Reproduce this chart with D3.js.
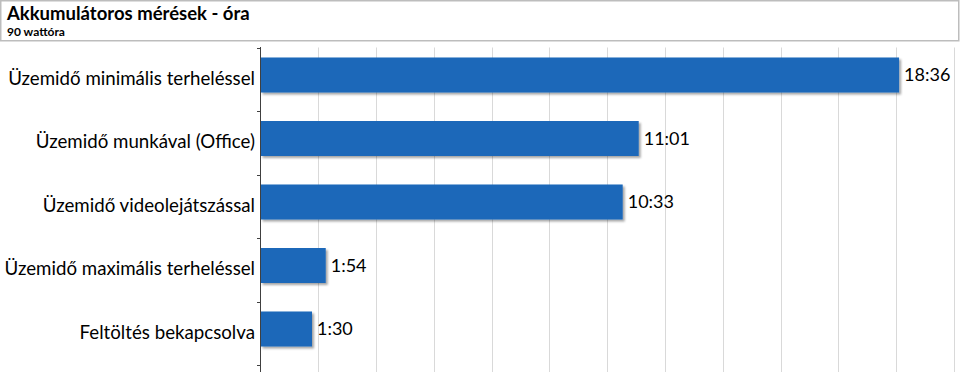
<!DOCTYPE html>
<html><head><meta charset="utf-8">
<script src="https://cdn.jsdelivr.net/npm/d3@7"></script>
<style>
html,body{margin:0;padding:0;background:#fff;}
svg{display:block;}
</style></head>
<body>
<svg id="c" width="960" height="380"></svg>
<script>
const title = "Akkumulátoros mérések - óra";
const subtitle = "90 wattóra";
const categories = ["Üzemidő minimális terheléssel","Üzemidő munkával (Office)","Üzemidő videolejátszással","Üzemidő maximális terheléssel","Feltöltés bekapcsolva"];
const times = ["18:36","11:01","10:33","1:54","1:30"];
const axisMaxMinutes = 1212;
const gridStepMinutes = 101;

const toMin = s => { const [h,m] = s.split(":").map(Number); return h*60+m; };
const data = categories.map((c,i)=>({cat:c, label:times[i], v:toMin(times[i])}));

const svg = d3.select("#c");
const font = "Lato, 'Open Sans', sans-serif";

// title box
svg.append("rect").attr("x",0.75).attr("y",0.75).attr("width",958).attr("height",40)
  .attr("fill","#fff").attr("stroke","#bdbdbd").attr("stroke-width",1.5);
svg.append("text").attr("x",7).attr("y",19.5).text(title)
  .attr("font-family",font).attr("font-weight","bold").attr("font-size",18.5).attr("fill","#000");
svg.append("text").attr("x",7).attr("y",35.5).text(subtitle)
  .attr("font-family",font).attr("font-weight","bold").attr("font-size",12).attr("fill","#000");

const x = d3.scaleLinear().domain([0,axisMaxMinutes]).range([260.5,954]);
const y = d3.scaleBand().domain(categories).range([47.5,365]);

const defs = svg.append("defs");
const f = defs.append("filter").attr("id","sh").attr("x","-5%").attr("y","-20%").attr("width","115%").attr("height","160%");
f.append("feDropShadow").attr("dx",2).attr("dy",2).attr("stdDeviation",1.2).attr("flood-color","#000").attr("flood-opacity",0.35);

// gridlines
svg.append("g").selectAll("line").data(d3.range(gridStepMinutes, axisMaxMinutes+1, gridStepMinutes))
  .join("line").attr("x1",d=>Math.round(x(d))+0.5).attr("x2",d=>Math.round(x(d))+0.5)
  .attr("y1",47.5).attr("y2",372).attr("stroke","#d9d9d9").attr("stroke-width",1);

// bars
svg.append("g").selectAll("rect").data(data).join("rect")
  .attr("x",x(0)).attr("y",d=>y(d.cat)+10).attr("width",d=>x(d.v)-x(0)).attr("height",35)
  .attr("fill","#1a67b9").attr("filter","url(#sh)");

// axis
svg.append("line").attr("x1",260.5).attr("x2",260.5).attr("y1",47).attr("y2",372).attr("stroke","#404040").attr("stroke-width",1);
const bounds = categories.map(c=>y(c)).concat([y.range()[1]]);
svg.append("g").selectAll("line").data(bounds).join("line")
  .attr("x1",257).attr("x2",260.5).attr("y1",d=>Math.round(d)+0.5).attr("y2",d=>Math.round(d)+0.5)
  .attr("stroke","#404040");

// category labels
svg.append("g").selectAll("text").data(data).join("text")
  .attr("x",255).attr("y",d=>y(d.cat)+y.bandwidth()/2).attr("dy","0.3em")
  .attr("text-anchor","end").attr("font-family",font).attr("font-size",18.7).attr("fill","#000")
  .text(d=>d.cat);

// value labels
svg.append("g").selectAll("text").data(data).join("text")
  .attr("x",d=>x(d.v)+5).attr("y",d=>y(d.cat)+10+17.5).attr("dy","0.35em")
  .attr("font-family",font).attr("font-size",18).attr("fill","#000")
  .text(d=>d.label);
</script>
</body></html>
